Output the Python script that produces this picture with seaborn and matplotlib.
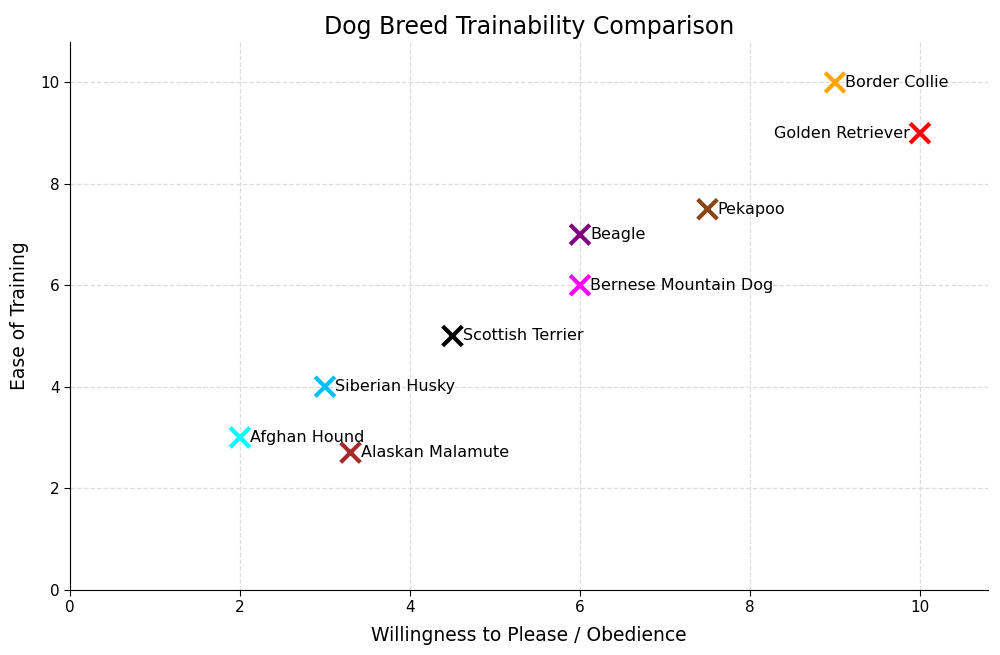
import matplotlib
matplotlib.use("Agg")
import matplotlib.pyplot as plt
import pandas as pd
import seaborn as sns

breeds = ["Border Collie", "Golden Retriever", "Pekapoo", "Beagle",
          "Bernese Mountain Dog", "Scottish Terrier", "Siberian Husky",
          "Afghan Hound", "Alaskan Malamute"]
obedience = [9, 10, 7.5, 6, 6, 4.5, 3, 2, 3.3]
ease = [10, 9, 7.5, 7, 6, 5, 4, 3, 2.7]
colors = ["orange", "red", "saddlebrown", "purple", "magenta", "black",
          "deepskyblue", "cyan", "brown"]

df = pd.DataFrame({"breed": breeds, "x": obedience, "y": ease})

sns.set_style("white")
plt.rcParams.update({
    "font.family": ["DejaVu Sans"],
    "text.color": "black",
    "axes.labelcolor": "black",
    "xtick.color": "black",
    "ytick.color": "black",
    "axes.edgecolor": "black",
})

fig, ax = plt.subplots(figsize=(10, 6.55), dpi=100)
sns.scatterplot(data=df, x="x", y="y", hue="breed", palette=colors,
                marker="x", s=200, linewidth=3, legend=False, ax=ax, zorder=3)

for b, x, y in zip(breeds, obedience, ease):
    if b == "Golden Retriever":
        ax.text(x - 0.12, y, b, ha="right", va="center", fontsize=11.5)
    else:
        ax.text(x + 0.12, y, b, ha="left", va="center", fontsize=11.5)

ax.set_xlim(0, 10.8)
ax.set_ylim(0, 10.8)
ax.grid(True, linestyle="--", color="#dddddd", linewidth=0.9)
ax.set_axisbelow(True)
sns.despine(ax=ax)
ax.tick_params(axis="both", labelsize=11, length=4, bottom=True, left=True)
ax.set_title("Dog Breed Trainability Comparison", fontsize=17)
ax.set_xlabel("Willingness to Please / Obedience", fontsize=13.5, labelpad=8)
ax.set_ylabel("Ease of Training", fontsize=13.5, labelpad=8)

fig.subplots_adjust(left=0.07, right=0.988, top=0.936, bottom=0.1)
fig.savefig("out.png", dpi=100)
